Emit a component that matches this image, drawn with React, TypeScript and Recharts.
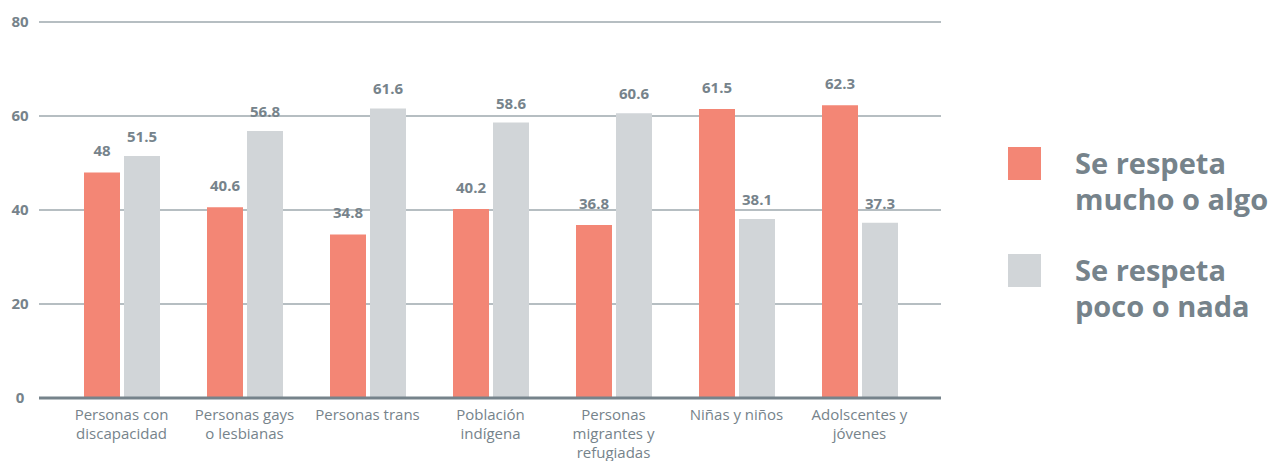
import React from 'react';
import { BarChart, Bar, XAxis, YAxis, CartesianGrid, LabelList, Legend } from 'recharts';

const categories = [
  'Personas con\ndiscapacidad',
  'Personas gays\no lesbianas',
  'Personas trans',
  'Población\nindígena',
  'Personas\nmigrantes y\nrefugiadas',
  'Niñas y niños',
  'Adolscentes y\njóvenes',
];
const muchoAlgo = [48, 40.6, 34.8, 40.2, 36.8, 61.5, 62.3];
const pocoNada = [51.5, 56.8, 61.6, 58.6, 60.6, 38.1, 37.3];
const yTicks = [0, 20, 40, 60, 80];
const seriesNames = ['Se respeta\nmucho o algo', 'Se respeta\npoco o nada'];

const data = categories.map((c, i) => ({ name: c, a: muchoAlgo[i], b: pocoNada[i] }));

const SALMON = '#f38675';
const GRAY = '#d1d5d8';
const TEXT = '#76838b';
const FONT = '"Open Sans", "Noto Sans", sans-serif';

const XTick = (props: any) => {
  const { x, y, payload } = props;
  const lines = String(payload.value).split('\n');
  return (
    <text x={x} y={y} textAnchor="middle" fill={TEXT} fontSize={15} fontFamily={FONT}>
      {lines.map((l, i) => (
        <tspan key={i} x={x} dy={i === 0 ? 14 : 19}>{l}</tspan>
      ))}
    </text>
  );
};

const YTick = (props: any) => {
  const { y, payload } = props;
  return (
    <text x={20} y={y} dy={5} textAnchor="middle" fill={TEXT} fontSize={15} fontWeight={700} fontFamily={FONT}>
      {payload.value}
    </text>
  );
};

const LegendContent = () => (
  <div style={{ fontFamily: FONT, width: 265 }}>
    {[SALMON, GRAY].map((col, i) => (
      <div key={i} style={{ display: 'flex', alignItems: 'flex-start', marginBottom: i === 0 ? 37 : 0 }}>
        <div style={{ width: 33, height: 33, background: col, flexShrink: 0 }} />
        <div style={{ marginLeft: 34, marginTop: -2, color: TEXT, fontSize: 29, fontWeight: 700, lineHeight: '36px', whiteSpace: 'pre', textAlign: 'left' }}>
          {seriesNames[i]}
        </div>
      </div>
    ))}
  </div>
);

export default function App() {
  return (
    <div style={{ position: 'fixed', left: 0, top: 0, width: 1273, height: 461, background: '#fff' }}>
      <BarChart
        width={1273}
        height={461}
        data={data}
        margin={{ top: 22, right: 67, bottom: 33, left: 0 }}
        barSize={36}
        barGap={4}
      >
        <CartesianGrid horizontal vertical={false} stroke="#9ea8ae" strokeWidth={1.5} />
        <YAxis
          width={39}
          domain={[0, 80]}
          ticks={yTicks}
          axisLine={false}
          tickLine={false}
          tick={<YTick />}
          interval={0}
        />
        <XAxis
          dataKey="name"
          height={30}
          axisLine={{ stroke: '#76838b', strokeWidth: 3 }}
          tickLine={false}
          tick={<XTick />}
          interval={0}
          padding={{ left: 21, right: 20 }}
        />
        <Legend
          layout="vertical"
          align="right"
          verticalAlign="middle"
          content={<LegendContent />}
          wrapperStyle={{ position: 'absolute', left: 1008, top: 147, width: 265 }}
        />
        <Bar dataKey="a" fill={SALMON} isAnimationActive={false}>
          <LabelList dataKey="a" position="top" offset={16} fill={TEXT} fontSize={15} fontWeight={700} fontFamily={FONT} />
        </Bar>
        <Bar dataKey="b" fill={GRAY} isAnimationActive={false}>
          <LabelList dataKey="b" position="top" offset={14} fill={TEXT} fontSize={15} fontWeight={700} fontFamily={FONT} />
        </Bar>
      </BarChart>
    </div>
  );
}
